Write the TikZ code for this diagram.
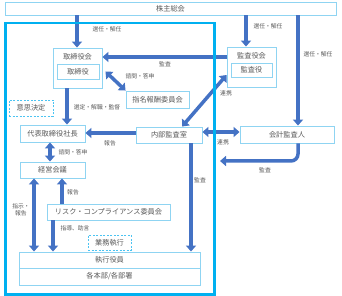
\documentclass[tikz,border=0pt]{standalone}
\usepackage{fontspec}
\newfontfamily\jp{Noto Sans CJK JP}
\usetikzlibrary{arrows.meta,calc}
\definecolor{arrc}{HTML}{4472C4}
\definecolor{boxc}{HTML}{8FD4F2}
\definecolor{framec}{HTML}{00B0F0}
\definecolor{dashc}{HTML}{4CC4F2}
\definecolor{txtc}{HTML}{595959}
\begin{document}
\begin{tikzpicture}[x=1pt,y=-1pt,
  box/.style={draw=boxc,line width=0.9pt,fill=white,inner sep=0pt,font=\jp\fontsize{7.2}{8}\selectfont,text=txtc},
  dbox/.style={box,draw=dashc,dash pattern=on 2pt off 1.5pt},
  btxt/.style={inner sep=0pt,font=\jp\fontsize{7.2}{8}\selectfont,text=txtc},
  lbl/.style={inner sep=0pt,font=\jp\fontsize{5.8}{7}\selectfont,text=txtc,align=center},
  arr/.style={draw=arrc,line width=3.5pt,-{Triangle[width=10pt,length=6pt]}},
  darr/.style={draw=arrc,line width=3.5pt,{Triangle[width=10pt,length=6pt]}-{Triangle[width=10pt,length=6pt]}},
  frame/.style={draw=framec,line width=2.4pt}
]
\useasboundingbox (0,0) rectangle (342,296);

% nodes
\node[box,minimum width=331pt,minimum height=13pt] (soukai) at (170.5,8.5) {株主総会};
\node[box,minimum width=49pt,minimum height=40pt] (torikai) at (77.5,68) {};
\node[btxt] (torikaiL) at (77.5,57) {取締役会};
\node[box,minimum width=42pt,minimum height=15pt] (tori) at (78,71.5) {取締役};
\node[box,minimum width=49pt,minimum height=40pt] (kansakai) at (251.5,67) {};
\node[btxt] (kansakaiL) at (251.5,56) {監査役会};
\node[box,minimum width=41pt,minimum height=14pt] (kansa) at (251.5,70) {監査役};
\node[box,minimum width=63pt,minimum height=17pt] (shimei) at (157.5,99.5) {指名報酬委員会};
\node[dbox,minimum width=44pt,minimum height=16pt] (ishi) at (31,108) {意思決定};
\node[box,minimum width=65pt,minimum height=17pt] (daihyo) at (52.5,133.5) {代表取締役社長};
\node[box,minimum width=66pt,minimum height=16pt] (naibu) at (169,135) {内部監査室};
\node[box,minimum width=94pt,minimum height=17pt] (kaikei) at (287,134.5) {会計監査人};
\node[box,minimum width=65pt,minimum height=16pt] (keiei) at (52.5,170) {経営会議};
\node[box,minimum width=123pt,minimum height=16pt] (risk) at (108.5,212) {リスク・コンプライアンス委員会};
\node[dbox,minimum width=43pt,minimum height=15pt] (gyomu) at (109.5,242.5) {業務執行};
\node[box,minimum width=181pt,minimum height=16pt] (shikko) at (109.5,260) {執行役員};
\node[box,minimum width=181pt,minimum height=17pt] (honbu) at (109.5,276.5) {各本部/各部署};

% helper coordinates
\coordinate (x77) at (77,0);
\coordinate (x246) at (246,0);
\coordinate (x298) at (298,0);
\coordinate (y57) at (0,57);
\coordinate (x67) at (67,0);
\coordinate (y133) at (0,133);
\coordinate (y132) at (0,132);
\coordinate (bend) at (298,161);
\coordinate (tipc) at (220,161);
\coordinate (x191) at (191,0);
\coordinate (x50) at (50,0);
\coordinate (x34) at (34,0);
\coordinate (x62) at (62,0);
\coordinate (x53) at (53,0);

% arrows
\draw[arr] (soukai.south -| x77) -- (torikai.north -| x77);
\draw[arr] (soukai.south -| x246) -- (kansakai.north -| x246);
\draw[arr] (soukai.south -| x298) -- (kaikei.north -| x298);
\draw[arr] (kansakai.west |- y57) -- (torikai.east |- y57);
\draw[darr] ([xshift=3pt]torikai.east |- tori.east) -- (shimei.north west);
\draw[darr] ([xshift=13pt]naibu.north) -- ([yshift=-8pt]kansakai.west);
\draw[arr] (torikai.south -| x67) -- (daihyo.north -| x67);
\draw[arr] (naibu.west |- y133) -- (daihyo.east |- y133);
\draw[darr] (naibu.east |- y132) -- (kaikei.west |- y132);
\draw[arr,rounded corners=7pt] (kaikei.south -| bend) -- (bend) -- (tipc);
\draw[arr] (naibu.south -| x191) -- (shikko.north -| x191);
\draw[darr] (daihyo.south -| x50) -- (keiei.north -| x50);
\draw[darr] (keiei.south -| x34) -- (shikko.north -| x34);
\draw[arr] (risk.north -| x62) -- (keiei.south -| x62);
\draw[arr] (risk.south -| x53) -- (shikko.north -| x53);

% frame
\draw[frame] (5.5,23) rectangle (214.5,294.5);

% labels
\node[lbl] (l1) at (107,29) {選任・解任};
\node[lbl] (l2) at (268,26) {選任・解任};
\node[lbl] (l3) at (318,54) {選任・解任};
\node[lbl] (l4) at (165,64) {監査};
\node[lbl] (l5) at (140,76) {諮問・答申};
\node[lbl] (l6) at (226,93) {連携};
\node[lbl] (l7) at (97,107) {選定・解職・監督};
\node[lbl] (l8) at (110,143) {報告};
\node[lbl] (l9) at (223,142) {連携};
\node[lbl] (l10) at (265,170) {監査};
\node[lbl] (l11) at (200,180) {監査};
\node[lbl] (l12) at (73,152) {諮問・答申};
\node[lbl] (l13) at (73,192) {報告};
\node[lbl] (l14) at (21,210) {指示・\\報告};
\node[lbl] (l15) at (75,228) {指導、助言};
\end{tikzpicture}
\end{document}
